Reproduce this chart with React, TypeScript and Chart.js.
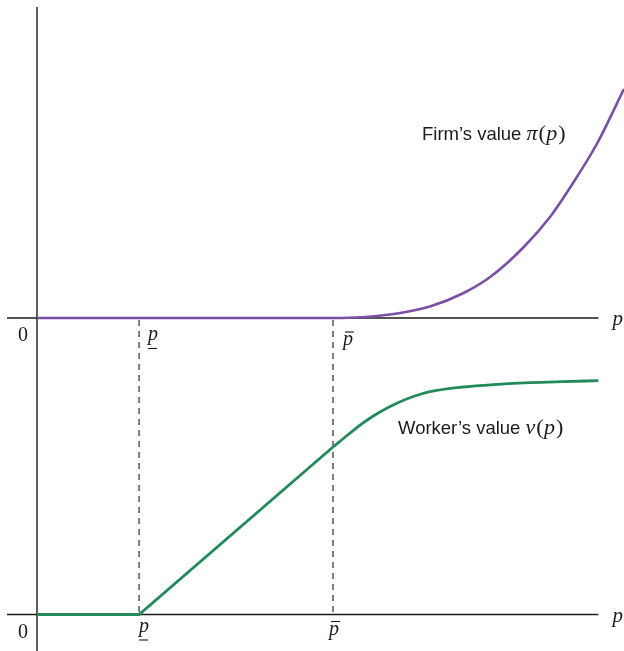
import React, { useEffect, useRef } from "react";
import { Chart, registerables } from "chart.js";

Chart.register(...registerables);

// Reservation thresholds on the p axis and the visible end of the axis
const P_LOW = 1.0;
const P_BAR = 2.9;
const AXIS_END = 5.5;

// Firm's value pi(p): zero up to p-bar, then convex growth
const firmP = [0, 1.0, 2.9, 3.19, 3.53, 3.85, 4.17, 4.44, 4.76, 5.03, 5.22, 5.49, 5.75];
const firmValue = [0, 0, 0, 0.008, 0.045, 0.115, 0.245, 0.41, 0.7, 1.015, 1.3, 1.75, 2.29];

// Worker's value v(p): zero up to p-low, linear to p-bar, then flattening
const workerLinearP = [0, 1.0, 2.9];
const workerLinearValue = [0, 0, 1.675];
const workerCurveP = [2.9, 3.05, 3.2, 3.36, 3.53, 3.68, 3.85, 4.17, 4.51, 4.83, 5.15, 5.5];
const workerCurveValue = [1.675, 1.8, 1.92, 2.025, 2.115, 2.178, 2.229, 2.275, 2.302, 2.319, 2.329, 2.338];

const INK = "#1c1a1b";
const PURPLE = "#7a4fa6";
const GREEN = "#238a5a";

const SERIF = '"Liberation Serif", "DejaVu Serif", serif';
const SANS = '"Liberation Sans", Arial, sans-serif';

type Piece = { t: string; italic: boolean };

function drawMath(ctx: CanvasRenderingContext2D, pieces: Piece[], x: number, y: number, size: number) {
  let cx = x;
  for (const p of pieces) {
    ctx.font = `${p.italic ? "italic " : ""}${size}px ${SERIF}`;
    ctx.fillText(p.t, cx, y);
    cx += ctx.measureText(p.t).width + (p.italic ? 1 : 0.5);
  }
  return cx;
}

// p with an underline or overbar, centred on cx, baseline at y
function drawMarkedP(ctx: CanvasRenderingContext2D, cx: number, y: number, mark: "under" | "over") {
  ctx.font = `italic 20px ${SERIF}`;
  ctx.textAlign = "center";
  ctx.fillText("p", cx, y);
  ctx.textAlign = "left";
  ctx.lineWidth = 1.1;
  ctx.beginPath();
  if (mark === "under") {
    ctx.moveTo(cx - 5, y + 8.5);
    ctx.lineTo(cx + 4, y + 8.5);
  } else {
    ctx.moveTo(cx - 3, y - 13);
    ctx.lineTo(cx + 6, y - 13);
  }
  ctx.stroke();
}

const guides = {
  id: "guides",
  beforeDatasetsDraw(chart: any) {
    const { ctx, scales } = chart;
    const x = scales.x;
    const x0 = x.getPixelForValue(0);
    const xEnd = x.getPixelForValue(AXIS_END);
    const top0 = scales.yTop.getPixelForValue(0);
    const bot0 = scales.yBottom.getPixelForValue(0);
    ctx.save();
    ctx.strokeStyle = INK;
    ctx.lineWidth = 1.4;
    ctx.beginPath();
    ctx.moveTo(x0, 7);
    ctx.lineTo(x0, chart.height);
    ctx.moveTo(7, top0);
    ctx.lineTo(xEnd, top0);
    ctx.moveTo(7, bot0);
    ctx.lineTo(xEnd, bot0);
    ctx.stroke();

    ctx.setLineDash([6, 5]);
    ctx.lineWidth = 1.1;
    for (const v of [P_LOW, P_BAR]) {
      const px = x.getPixelForValue(v);
      ctx.beginPath();
      ctx.moveTo(px, top0 + 2);
      ctx.lineTo(px, bot0);
      ctx.stroke();
    }
    ctx.restore();
  },
  afterDatasetsDraw(chart: any) {
    const { ctx, scales } = chart;
    const x = scales.x;
    const top0 = scales.yTop.getPixelForValue(0);
    const bot0 = scales.yBottom.getPixelForValue(0);
    const xEnd = x.getPixelForValue(AXIS_END);
    const pLow = x.getPixelForValue(P_LOW);
    const pBar = x.getPixelForValue(P_BAR);

    ctx.save();
    ctx.fillStyle = INK;
    ctx.strokeStyle = INK;
    ctx.textBaseline = "alphabetic";

    // origin labels
    ctx.font = `20px ${SERIF}`;
    ctx.textAlign = "center";
    ctx.fillText("0", 23, top0 + 23);
    ctx.fillText("0", 23, bot0 + 23);

    // axis names
    ctx.font = `italic 21px ${SERIF}`;
    ctx.textAlign = "left";
    ctx.fillText("p", xEnd + 14, top0 + 7);
    ctx.fillText("p", xEnd + 14, bot0 + 7);

    // threshold labels
    drawMarkedP(ctx, pLow + 14, top0 + 22, "under");
    drawMarkedP(ctx, pBar + 15, top0 + 27, "over");
    drawMarkedP(ctx, pLow + 5, bot0 + 17, "under");
    drawMarkedP(ctx, pBar + 1, bot0 + 20, "over");

    // curve names
    ctx.font = `18.5px ${SANS}`;
    ctx.textAlign = "left";
    const firmText = "Firm\u2019s value ";
    ctx.fillText(firmText, 422, 140);
    let w = ctx.measureText(firmText).width;
    drawMath(
      ctx,
      [
        { t: "\u03c0", italic: true },
        { t: "(", italic: false },
        { t: "p", italic: true },
        { t: ")", italic: false },
      ],
      422 + w,
      140,
      22
    );

    ctx.font = `18.5px ${SANS}`;
    const workerText = "Worker\u2019s value ";
    ctx.fillText(workerText, 398, 434);
    w = ctx.measureText(workerText).width;
    drawMath(
      ctx,
      [
        { t: "v", italic: true },
        { t: "(", italic: false },
        { t: "p", italic: true },
        { t: ")", italic: false },
      ],
      398 + w,
      434,
      22
    );
    ctx.restore();
  },
};

const toPoints = (xs: number[], ys: number[]) => xs.map((p, i) => ({ x: p, y: ys[i] }));

export default function App() {
  const canvasRef = useRef<HTMLCanvasElement | null>(null);

  useEffect(() => {
    const canvas = canvasRef.current;
    if (!canvas) return;
    const chart = new Chart(canvas, {
      type: "line",
      data: {
        datasets: [
          {
            label: "Firm's value",
            data: toPoints(firmP, firmValue),
            yAxisID: "yTop",
            borderColor: PURPLE,
            borderWidth: 2.6,
            pointRadius: 0,
            cubicInterpolationMode: "monotone",
            fill: false,
          },
          {
            label: "Worker's value",
            data: toPoints(workerLinearP, workerLinearValue),
            yAxisID: "yBottom",
            borderColor: GREEN,
            borderWidth: 2.8,
            pointRadius: 0,
            tension: 0,
            fill: false,
          },
          {
            label: "Worker's value (upper)",
            data: toPoints(workerCurveP, workerCurveValue),
            yAxisID: "yBottom",
            borderColor: GREEN,
            borderWidth: 2.8,
            pointRadius: 0,
            cubicInterpolationMode: "monotone",
            fill: false,
          },
        ],
      },
      options: {
        animation: false,
        responsive: false,
        layout: { padding: 0 },
        plugins: {
          legend: { display: false },
          tooltip: { enabled: false },
        },
        scales: {
          x: { type: "linear", min: -0.3625, max: 5.751, display: false },
          yTop: { type: "linear", min: -3.33, max: 3.18, display: false },
          yBottom: { type: "linear", min: -0.365, max: 6.145, display: false },
        },
      },
      plugins: [guides],
    });
    return () => chart.destroy();
  }, []);

  return (
    <div style={{ position: "absolute", left: 0, top: 0, width: 624, height: 651, background: "#fff" }}>
      <canvas ref={canvasRef} width={624} height={651} />
    </div>
  );
}
